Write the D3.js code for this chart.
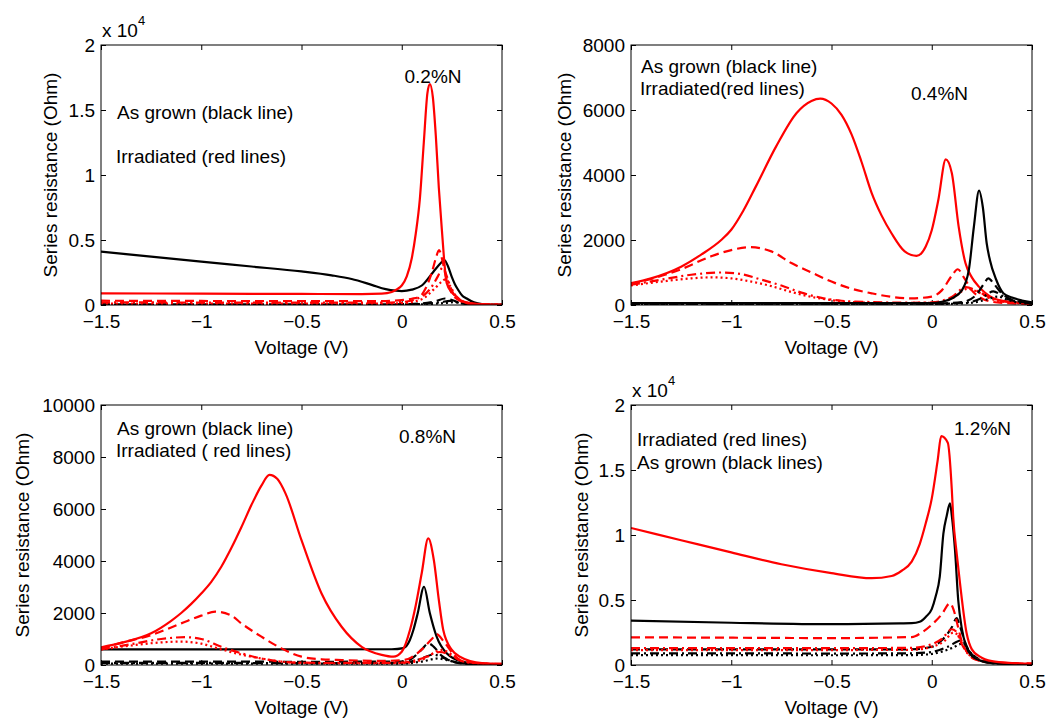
<!DOCTYPE html>
<html><head><meta charset="utf-8">
<script src="https://cdn.jsdelivr.net/npm/d3@7"></script>
<style>
body{margin:0;background:#fff;}
svg text{font-family:"Liberation Sans",Arial,sans-serif;fill:#000;}
</style></head>
<body><svg id="chart" width="1050" height="718"></svg>
<script>
// ---------------- DATA (Voltage V, Series resistance Ohm) ----------------
const voltageTicks = [-1.5, -1, -0.5, 0, 0.5];
const p1YTicks = [0, 5000, 10000, 15000, 20000];
const p2YTicks = [0, 2000, 4000, 6000, 8000];
const p3YTicks = [0, 2000, 4000, 6000, 8000, 10000];
const p4YTicks = [0, 5000, 10000, 15000, 20000];

// Panel 1 : 0.2%N
const p1BlackSolid = [[-1.5,4100],[-1.25,3720],[-1.0,3330],[-0.75,2960],[-0.5,2580],[-0.35,2280],[-0.25,2000],[-0.15,1550],[-0.08,1220],[-0.03,1100],[0,1070],[0.05,1180],[0.1,1500],[0.158,2560],[0.19,3150],[0.212,3460],[0.23,3000],[0.249,2180],[0.265,1600],[0.282,1150],[0.3,750],[0.324,500],[0.36,200],[0.4,70],[0.5,20]];
const p1RedSolid = [[-1.5,900],[-1.0,870],[-0.5,850],[-0.2,840],[-0.1,870],[-0.05,1000],[-0.025,1200],[0,1500],[0.025,2200],[0.05,3600],[0.07,5500],[0.09,8100],[0.11,12500],[0.128,16300],[0.14,17000],[0.155,16000],[0.17,13000],[0.185,9000],[0.2,5800],[0.224,1700],[0.25,950],[0.274,640],[0.3,300],[0.35,120],[0.4,50],[0.5,20]];
const p1RedDashed = [[-1.5,330],[-1.0,310],[-0.5,300],[-0.1,300],[0,380],[0.05,480],[0.09,650],[0.12,1300],[0.15,2500],[0.17,3600],[0.186,4230],[0.2,3600],[0.22,2200],[0.25,900],[0.3,250],[0.35,80],[0.5,20]];
const p1RedDashDot = [[-1.5,200],[-1.0,190],[-0.5,180],[-0.1,180],[0,230],[0.08,500],[0.14,1200],[0.18,2200],[0.205,2900],[0.225,2200],[0.25,1100],[0.3,300],[0.35,90],[0.5,20]];
const p1RedDotted = [[-1.5,110],[-1.0,100],[-0.5,100],[-0.1,100],[0,140],[0.1,450],[0.16,1200],[0.2,1800],[0.22,2000],[0.24,1500],[0.27,700],[0.32,200],[0.4,50],[0.5,20]];
const p1BlackDashed = [[-1.5,60],[-0.5,50],[0,60],[0.1,120],[0.17,300],[0.215,500],[0.25,380],[0.3,120],[0.4,30],[0.5,10]];
const p1BlackDashDot = [[-1.5,40],[-0.5,35],[0,40],[0.12,100],[0.2,230],[0.24,320],[0.28,200],[0.33,70],[0.5,10]];
const p1BlackDotted = [[-1.5,25],[-0.5,20],[0,25],[0.14,80],[0.22,160],[0.26,220],[0.3,130],[0.35,50],[0.5,10]];

// Panel 2 : 0.4%N
const p2RedSolid = [[-1.5,670],[-1.4,820],[-1.25,1180],[-1.15,1550],[-1.05,2000],[-1.0,2314],[-0.94,2900],[-0.877,3650],[-0.776,4880],[-0.674,5910],[-0.6,6280],[-0.556,6350],[-0.5,6200],[-0.45,5850],[-0.4,5250],[-0.35,4400],[-0.3,3450],[-0.25,2750],[-0.2,2200],[-0.135,1650],[-0.076,1510],[-0.03,1800],[0,2300],[0.033,3240],[0.07,4480],[0.1,4060],[0.134,2420],[0.168,1290],[0.2,850],[0.235,565],[0.303,226],[0.387,100],[0.5,50]];
const p2RedDashed = [[-1.5,650],[-1.4,800],[-1.25,1100],[-1.1,1500],[-1.0,1690],[-0.91,1780],[-0.8,1650],[-0.7,1290],[-0.6,1000],[-0.5,720],[-0.4,500],[-0.3,360],[-0.2,250],[-0.1,205],[0,260],[0.05,450],[0.1,900],[0.13,1100],[0.16,850],[0.2,450],[0.25,200],[0.3,100],[0.4,50],[0.5,30]];
const p2RedDashDot = [[-1.5,620],[-1.35,780],[-1.2,930],[-1.05,1000],[-0.95,950],[-0.85,780],[-0.75,600],[-0.65,380],[-0.55,220],[-0.45,130],[-0.3,90],[-0.1,70],[0,80],[0.1,250],[0.17,550],[0.22,450],[0.3,200],[0.4,80],[0.5,40]];
const p2RedDotted = [[-1.5,600],[-1.35,720],[-1.2,820],[-1.1,850],[-1.0,820],[-0.9,720],[-0.8,580],[-0.7,400],[-0.6,250],[-0.5,150],[-0.4,90],[-0.2,60],[0,70],[0.1,200],[0.18,500],[0.23,400],[0.3,180],[0.4,70],[0.5,30]];
const p2BlackSolid = [[-1.5,60],[-1.0,55],[-0.5,55],[0,60],[0.05,100],[0.1,200],[0.15,450],[0.185,1080],[0.21,2400],[0.236,3520],[0.255,3000],[0.274,1900],[0.29,1385],[0.32,800],[0.357,360],[0.4,230],[0.45,140],[0.5,80]];
const p2BlackDashed = [[-1.5,40],[-0.5,40],[0,45],[0.15,90],[0.22,300],[0.26,650],[0.282,820],[0.31,650],[0.35,350],[0.4,160],[0.5,60]];
const p2BlackDashDot = [[-1.5,30],[-0.5,30],[0,35],[0.18,80],[0.25,220],[0.307,420],[0.34,330],[0.38,180],[0.5,50]];
const p2BlackDotted = [[-1.5,20],[-0.5,20],[0,25],[0.2,70],[0.28,180],[0.33,260],[0.37,180],[0.42,90],[0.5,40]];

// Panel 3 : 0.8%N
const p3RedSolid = [[-1.5,680],[-1.4,850],[-1.25,1220],[-1.15,1700],[-1.1,2000],[-1.05,2350],[-1.0,2750],[-0.95,3200],[-0.9,3780],[-0.85,4500],[-0.8,5300],[-0.75,6150],[-0.7,6900],[-0.66,7310],[-0.62,7150],[-0.58,6600],[-0.5,4800],[-0.4,2750],[-0.3,1470],[-0.2,700],[-0.1,390],[-0.042,320],[0,510],[0.041,1346],[0.07,2300],[0.1,3550],[0.132,4870],[0.16,4040],[0.185,2500],[0.207,1346],[0.25,580],[0.29,320],[0.4,70],[0.5,40]];
const p3RedDashed = [[-1.5,640],[-1.4,850],[-1.25,1150],[-1.1,1600],[-1.0,1900],[-0.93,2050],[-0.85,1900],[-0.8,1600],[-0.7,1090],[-0.6,640],[-0.5,320],[-0.4,220],[-0.3,190],[-0.1,160],[0,180],[0.05,300],[0.1,600],[0.15,1000],[0.174,1190],[0.21,900],[0.26,400],[0.3,150],[0.4,60],[0.5,40]];
const p3RedDashDot = [[-1.5,600],[-1.35,800],[-1.2,1000],[-1.08,1070],[-1.0,1000],[-0.9,700],[-0.8,450],[-0.7,250],[-0.6,130],[-0.5,90],[-0.2,80],[0,90],[0.1,250],[0.19,500],[0.25,350],[0.3,150],[0.4,60],[0.5,30]];
const p3RedDotted = [[-1.5,600],[-1.35,750],[-1.2,870],[-1.1,900],[-1.0,820],[-0.9,600],[-0.8,400],[-0.7,250],[-0.6,130],[-0.5,80],[-0.3,60],[0,70],[0.1,200],[0.2,580],[0.25,400],[0.3,150],[0.4,50],[0.5,20]];
const p3BlackSolid = [[-1.5,600],[-1.0,600],[-0.5,600],[-0.05,605],[0.008,650],[0.04,950],[0.058,1346],[0.08,2000],[0.111,3010],[0.14,2000],[0.174,1090],[0.224,450],[0.3,130],[0.4,20],[0.5,10]];
const p3BlackDashed = [[-1.5,130],[-1.0,130],[-0.5,125],[0,130],[0.05,250],[0.1,600],[0.133,830],[0.16,700],[0.2,350],[0.25,150],[0.3,60],[0.5,10]];
const p3BlackDashDot = [[-1.5,80],[-1.0,80],[-0.5,75],[0,80],[0.08,200],[0.16,400],[0.2,300],[0.26,120],[0.35,40],[0.5,10]];
const p3BlackDotted = [[-1.5,50],[-1.0,50],[-0.5,50],[0,55],[0.1,130],[0.18,250],[0.22,200],[0.28,90],[0.38,30],[0.5,10]];

// Panel 4 : 1.2%N
const p4RedSolid = [[-1.5,10540],[-1.25,9600],[-1.0,8660],[-0.75,7750],[-0.5,7070],[-0.3,6680],[-0.2,6850],[-0.15,7250],[-0.1,7950],[-0.06,9300],[-0.03,10900],[0,12800],[0.03,15800],[0.047,17600],[0.08,17100],[0.1,13500],[0.107,11400],[0.125,8500],[0.141,6280],[0.174,2440],[0.2,1200],[0.24,640],[0.3,300],[0.4,150],[0.5,100]];
const p4BlackSolid = [[-1.5,3420],[-1.0,3250],[-0.5,3140],[-0.158,3200],[-0.1,3220],[-0.06,3330],[-0.03,3700],[0,4300],[0.02,5300],[0.04,6800],[0.058,10100],[0.075,11500],[0.091,12440],[0.1,11500],[0.116,8850],[0.132,5000],[0.15,2800],[0.17,1500],[0.2,700],[0.25,300],[0.3,150],[0.5,50]];
const p4RedDashed = [[-1.5,2130],[-1.0,2100],[-0.5,2070],[-0.1,2150],[-0.05,2500],[0,3100],[0.05,3900],[0.091,4750],[0.11,4200],[0.13,3000],[0.15,1800],[0.18,900],[0.22,400],[0.3,200],[0.5,100]];
const p4RedDashDot = [[-1.5,1300],[-1.0,1300],[-0.5,1300],[-0.1,1320],[0,1600],[0.05,2000],[0.1,2750],[0.12,2600],[0.15,1600],[0.2,600],[0.3,200],[0.5,80]];
const p4RedDotted = [[-1.5,1150],[-1.0,1150],[-0.5,1150],[-0.1,1170],[0,1400],[0.06,1800],[0.108,2500],[0.13,2300],[0.16,1400],[0.2,600],[0.3,200],[0.5,80]];
const p4BlackDashed = [[-1.5,1200],[-1.0,1200],[-0.5,1200],[-0.1,1210],[0,1400],[0.05,1900],[0.1,2900],[0.124,3600],[0.14,3000],[0.17,1600],[0.2,800],[0.3,200],[0.5,50]];
const p4BlackDashDot = [[-1.5,900],[-1.0,900],[-0.5,880],[-0.1,900],[0,1000],[0.08,1400],[0.149,1900],[0.18,1200],[0.22,500],[0.3,150],[0.5,40]];
const p4BlackDotted = [[-1.5,760],[-1.0,760],[-0.5,750],[-0.1,760],[0,850],[0.1,1300],[0.155,1650],[0.19,1000],[0.24,400],[0.32,120],[0.5,30]];

// Text
const yLabel = "Series resistance (Ohm)";
const xLabel = "Voltage (V)";
const p1Notes = ["As grown (black line)", "Irradiated (red lines)", "0.2%N"];
const p2Notes = ["As grown (black line)", "Irradiated(red lines)", "0.4%N"];
const p3Notes = ["As grown (black line)", "Irradiated ( red lines)", "0.8%N"];
const p4Notes = ["Irradiated (red lines)", "As grown (black lines)", "1.2%N"];

// ---------------- LAYOUT / STYLE ----------------
const dashes = {solid: null, dashed: "9,5", dashdot: "9,4,2,4", dotted: "2,3"};
const RED = "#ff0000", BLACK = "#000000";
const panels = [
  {left:101, top:45, yMax:20000, yTicks:p1YTicks, exp:true, yLabelX:50,
   series:[[p1BlackDashed,BLACK,"dashed"],[p1BlackDashDot,BLACK,"dashdot"],[p1BlackDotted,BLACK,"dotted"],[p1BlackSolid,BLACK,"solid"],
           [p1RedDotted,RED,"dotted"],[p1RedDashDot,RED,"dashdot"],[p1RedDashed,RED,"dashed"],[p1RedSolid,RED,"solid"]],
   notes:[[p1Notes[0],117,119,"start"],[p1Notes[1],116,163,"start"],[p1Notes[2],433,83,"middle"]]},
  {left:631, top:45, yMax:8000, yTicks:p2YTicks, exp:false, yLabelX:564,
   series:[[p2RedDotted,RED,"dotted"],[p2RedDashDot,RED,"dashdot"],[p2RedDashed,RED,"dashed"],[p2RedSolid,RED,"solid"],
           [p2BlackDashed,BLACK,"dashed"],[p2BlackDashDot,BLACK,"dashdot"],[p2BlackDotted,BLACK,"dotted"],[p2BlackSolid,BLACK,"solid"]],
   notes:[[p2Notes[0],641,73,"start"],[p2Notes[1],640,95,"start"],[p2Notes[2],911,100,"start"]]},
  {left:101, top:405, yMax:10000, yTicks:p3YTicks, exp:false, yLabelX:22,
   series:[[p3BlackDashed,BLACK,"dashed"],[p3BlackDashDot,BLACK,"dashdot"],[p3BlackDotted,BLACK,"dotted"],[p3BlackSolid,BLACK,"solid"],
           [p3RedDotted,RED,"dotted"],[p3RedDashDot,RED,"dashdot"],[p3RedDashed,RED,"dashed"],[p3RedSolid,RED,"solid"]],
   notes:[[p3Notes[0],117,435,"start"],[p3Notes[1],116,457,"start"],[p3Notes[2],399,443,"start"]]},
  {left:631, top:405, yMax:20000, yTicks:p4YTicks, exp:true, yLabelX:581,
   series:[[p4BlackDashed,BLACK,"dashed"],[p4BlackDashDot,BLACK,"dashdot"],[p4BlackDotted,BLACK,"dotted"],
           [p4RedDotted,RED,"dotted"],[p4RedDashDot,RED,"dashdot"],[p4RedDashed,RED,"dashed"],[p4BlackSolid,BLACK,"solid"],[p4RedSolid,RED,"solid"]],
   notes:[[p4Notes[0],637,446,"start"],[p4Notes[1],637,469,"start"],[p4Notes[2],954,435,"start"]]}
];
const W = 401, H = 260, FS = 19, TICK = 5;

const svg = d3.select("#chart");
panels.forEach((p, i) => {
  const x = d3.scaleLinear().domain([-1.5, 0.5]).range([0, W]);
  const y = d3.scaleLinear().domain([0, p.yMax]).range([H, 0]);
  const g = svg.append("g").attr("transform", `translate(${p.left},${p.top})`);
  const cid = "clip" + i;
  g.append("clipPath").attr("id", cid).append("rect").attr("width", W).attr("height", H);

  const yFmt = p.exp ? (d => d3.format("~g")(d / 1e4)) : d3.format("d");
  const xFmt = d => d3.format("~g")(d);

  // axes with inward ticks (MATLAB box style)
  const axB = g.append("g").attr("transform", `translate(0,${H})`)
    .call(d3.axisBottom(x).tickValues(voltageTicks).tickSize(-TICK).tickPadding(10).tickFormat(xFmt));
  const axT = g.append("g").call(d3.axisTop(x).tickValues(voltageTicks).tickSize(-TICK).tickFormat(""));
  const axL = g.append("g").call(d3.axisLeft(y).tickValues(p.yTicks).tickSize(-TICK).tickPadding(6).tickFormat(yFmt));
  const axR = g.append("g").attr("transform", `translate(${W},0)`)
    .call(d3.axisRight(y).tickValues(p.yTicks).tickSize(-TICK).tickFormat(""));
  [axB, axT, axL, axR].forEach(a => {
    a.select(".domain").remove();
    a.selectAll("line").attr("stroke", "#000").attr("stroke-width", 1);
    a.selectAll("text").attr("font-size", FS).attr("font-family", "Liberation Sans, Arial, sans-serif").attr("fill", "#000");
  });
  axB.selectAll("text").attr("dy", "0.71em");

  // lines
  const line = d3.line().x(d => x(d[0])).y(d => y(d[1])).curve(d3.curveMonotoneX);
  const lg = g.append("g").attr("clip-path", `url(#${cid})`);
  p.series.forEach(([data, color, style]) => {
    lg.append("path").datum(data).attr("d", line)
      .attr("fill", "none").attr("stroke", color).attr("stroke-width", 2.2)
      .attr("stroke-linejoin", "round")
      .attr("stroke-dasharray", dashes[style]);
  });

  // box
  g.append("rect").attr("width", W).attr("height", H).attr("fill", "none").attr("stroke", "#000").attr("stroke-width", 1);

  // exponent
  if (p.exp) {
    const t = g.append("text").attr("x", 1).attr("y", -8).attr("font-size", FS);
    t.append("tspan").text("x 10");
    t.append("tspan").attr("font-size", 13).attr("dy", -12).text("4");
  }
  // axis labels
  svg.append("text").attr("x", p.left + W / 2).attr("y", p.top + H + 49)
    .attr("text-anchor", "middle").attr("font-size", FS).text(xLabel);
  svg.append("text").attr("transform", `translate(${p.yLabelX},${p.top + H / 2}) rotate(-90)`)
    .attr("text-anchor", "middle").attr("dominant-baseline", "central").attr("font-size", FS).text(yLabel);
  // notes
  p.notes.forEach(([txt, tx, ty, anchor]) => {
    svg.append("text").attr("x", tx).attr("y", ty).attr("text-anchor", anchor).attr("font-size", FS).text(txt);
  });
});
</script></body></html>
